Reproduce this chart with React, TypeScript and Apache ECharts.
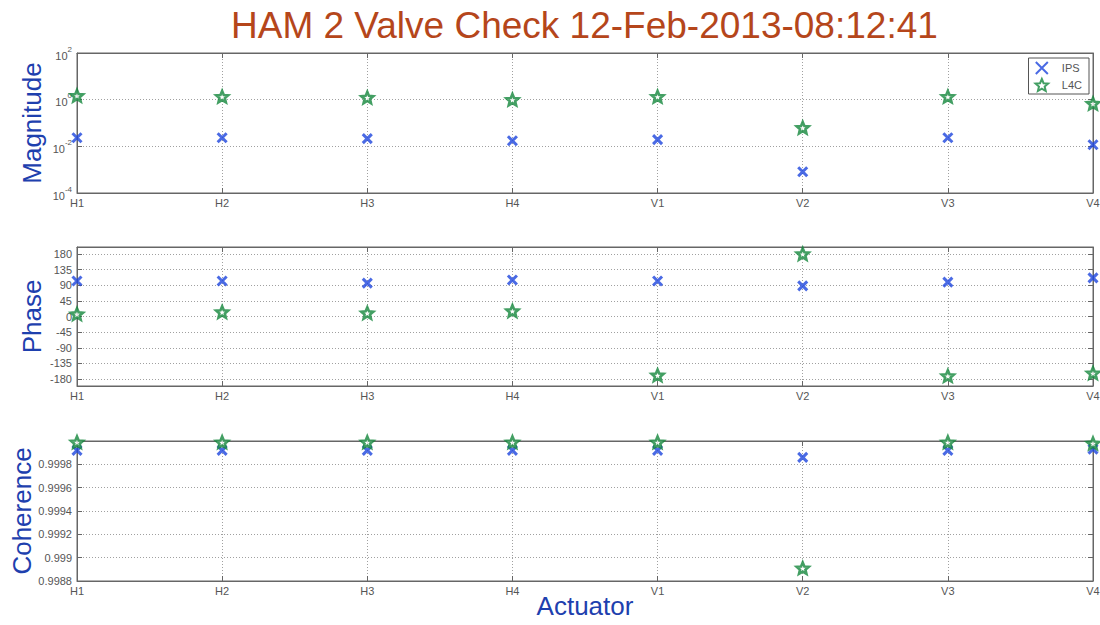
import React, { useEffect, useRef } from "react";
import * as echarts from "echarts";

const titleText = "HAM 2 Valve Check 12-Feb-2013-08:12:41";
const categories = ["H1", "H2", "H3", "H4", "V1", "V2", "V3", "V4"];
const seriesNames = ["IPS", "L4C"];

const ipsMagnitude = [0.0234, 0.0234, 0.0214, 0.0174, 0.0195, 0.00081, 0.0234, 0.0117];
const l4cMagnitude = [1.48, 1.35, 1.23, 1.0, 1.35, 0.063, 1.35, 0.68];

const ipsPhase = [102, 102, 96, 105, 102, 88, 99, 111];
const l4cPhase = [7, 13, 10, 16, -169, 180, -171, -163];

const ipsCoherence = [0.99992, 0.99992, 0.99992, 0.99992, 0.99992, 0.99986, 0.99992, 0.99993];
const l4cCoherence = [0.99999, 0.99999, 0.99999, 0.99999, 0.99999, 0.99891, 0.99999, 0.99998];

const phaseTicks = [-180, -135, -90, -45, 0, 45, 90, 135, 180];
const coherenceTicks = [0.9988, 0.999, 0.9992, 0.9994, 0.9996, 0.9998];

const FONT = "Liberation Sans";
const BLUE = "#1d45dd";
const GREEN = "#14873c";
const AXIS = "#666";
const LABEL = "#555";
const NAME = "#1e40ae";
const GRIDLINE = { type: [1, 2], color: "#a0a0a0", width: 1 };

const X_PATH = "path://M0,0L10,10M10,0L0,10";
const STAR_PATH =
  "path://M10,0L12.65,6.36L19.51,6.91L14.28,11.39L15.88,18.09L10,14.5L4.12,18.09L5.72,11.39L0.49,6.91L7.35,6.36Z";

const grids = [
  { left: 77, right: 7, top: 53, height: 140 },
  { left: 77, right: 7, top: 247, height: 139 },
  { left: 77, right: 7, top: 441, height: 140 },
];

function xAxes(gridIndex: number, withName: boolean) {
  const base = {
    type: "category",
    gridIndex,
    data: categories,
    boundaryGap: false,
    axisLine: { onZero: false, lineStyle: { color: AXIS } },
    axisTick: { inside: true, length: 5, lineStyle: { color: AXIS } },
  };
  return [
    {
      ...base,
      position: "bottom",
      axisLabel: { color: LABEL, fontSize: 11, margin: 4, fontFamily: FONT },
      splitLine: { show: true, lineStyle: GRIDLINE },
      name: withName ? "Actuator" : "",
      nameLocation: "middle",
      nameGap: 12,
      nameMoveOverlap: false,
      nameTextStyle: { fontSize: 26, color: NAME, fontFamily: FONT, verticalAlign: "top" },
    },
    {
      ...base,
      position: "top",
      axisLabel: { show: false },
      splitLine: { show: false },
    },
  ];
}

function yAxes(gridIndex: number, name: string, nameGap: number, scale: any, label: any) {
  const { ticks, ...range } = scale;
  const custom = ticks ? { customValues: ticks } : {};
  return [
    {
      type: "value",
      gridIndex,
      position: "left",
      ...range,
      axisLine: { show: true, onZero: false, lineStyle: { color: AXIS } },
      axisTick: { show: true, inside: true, length: 5, lineStyle: { color: AXIS }, ...custom },
      axisLabel: { color: LABEL, fontSize: 11, margin: 5, fontFamily: FONT, ...label, ...custom },
      splitLine: { show: true, lineStyle: GRIDLINE },
      name,
      nameLocation: "middle",
      nameGap,
      nameMoveOverlap: false,
      nameTextStyle: { fontSize: 26, color: NAME, fontFamily: FONT },
    },
    {
      type: "value",
      gridIndex,
      position: "right",
      ...range,
      axisLine: { show: true, onZero: false, lineStyle: { color: AXIS } },
      axisTick: { show: true, inside: true, length: 5, lineStyle: { color: AXIS }, ...custom },
      axisLabel: { show: false },
      splitLine: { show: false },
    },
  ];
}

function scatter(name: string, gridIndex: number, data: number[]) {
  const isIps = name === "IPS";
  return {
    type: "scatter",
    name,
    xAxisIndex: gridIndex * 2,
    yAxisIndex: gridIndex * 2,
    data,
    clip: false,
    symbol: isIps ? X_PATH : STAR_PATH,
    symbolKeepAspect: true,
    symbolSize: isIps ? 9 : 12,
    itemStyle: isIps
      ? { color: BLUE, borderColor: BLUE, borderWidth: 3 }
      : { color: "#ffffff", borderColor: GREEN, borderWidth: 2.6 },
    z: isIps ? 3 : 4,
  };
}

export default function App() {
  const ref = useRef<HTMLDivElement>(null);
  useEffect(() => {
    if (!ref.current) return;
    const chart = echarts.init(ref.current, null, { renderer: "svg" });
    const option: any = {
      animation: false,
      backgroundColor: "#ffffff",
      title: {
        text: titleText,
        left: 231,
        top: 7,
        padding: 0,
        textStyle: { fontSize: 37, fontWeight: "normal", color: "#b5461b", fontFamily: FONT },
      },
      legend: {
        data: seriesNames,
        orient: "vertical",
        right: 11,
        top: 58,
        padding: [3, 7, 2, 6],
        itemWidth: 30,
        itemHeight: 12,
        itemGap: 3,
        backgroundColor: "#ffffff",
        borderColor: "#555",
        borderWidth: 1,
        textStyle: { fontSize: 11, color: LABEL, fontFamily: FONT },
      },
      grid: grids.map((g) => ({
        ...g,
        show: true,
        borderColor: AXIS,
        borderWidth: 1,
        containLabel: false,
        outerBoundsMode: "none",
      })),
      xAxis: [...xAxes(0, false), ...xAxes(1, false), ...xAxes(2, true)],
      yAxis: [
        ...yAxes(0, "Magnitude", 32, { min: -4, max: 2, interval: 2 }, {
          formatter: (v: number) => `{b|10}{s|${v}}`,
          rich: {
            b: { fontSize: 11, color: LABEL, fontFamily: FONT, verticalAlign: "bottom", lineHeight: 16 },
            s: { fontSize: 8, color: LABEL, fontFamily: FONT, verticalAlign: "top", lineHeight: 16 },
          },
        }),
        ...yAxes(1, "Phase", 32, { min: -200, max: 200, ticks: phaseTicks }, {}),
        ...yAxes(2, "Coherence", 42, { min: 0.9988, max: 1, ticks: coherenceTicks }, {
          formatter: (v: number) => String(Number(v.toFixed(4))),
        }),
      ],
      series: [
        scatter("IPS", 0, ipsMagnitude.map((v) => Math.log10(v))),
        scatter("L4C", 0, l4cMagnitude.map((v) => Math.log10(v))),
        scatter("IPS", 1, ipsPhase),
        scatter("L4C", 1, l4cPhase),
        scatter("IPS", 2, ipsCoherence),
        scatter("L4C", 2, l4cCoherence),
      ],
    };
    chart.setOption(option);
    return () => chart.dispose();
  }, []);
  return (
    <div
      ref={ref}
      style={{ position: "fixed", left: 0, top: 0, width: 1100, height: 625, background: "#fff" }}
    />
  );
}
